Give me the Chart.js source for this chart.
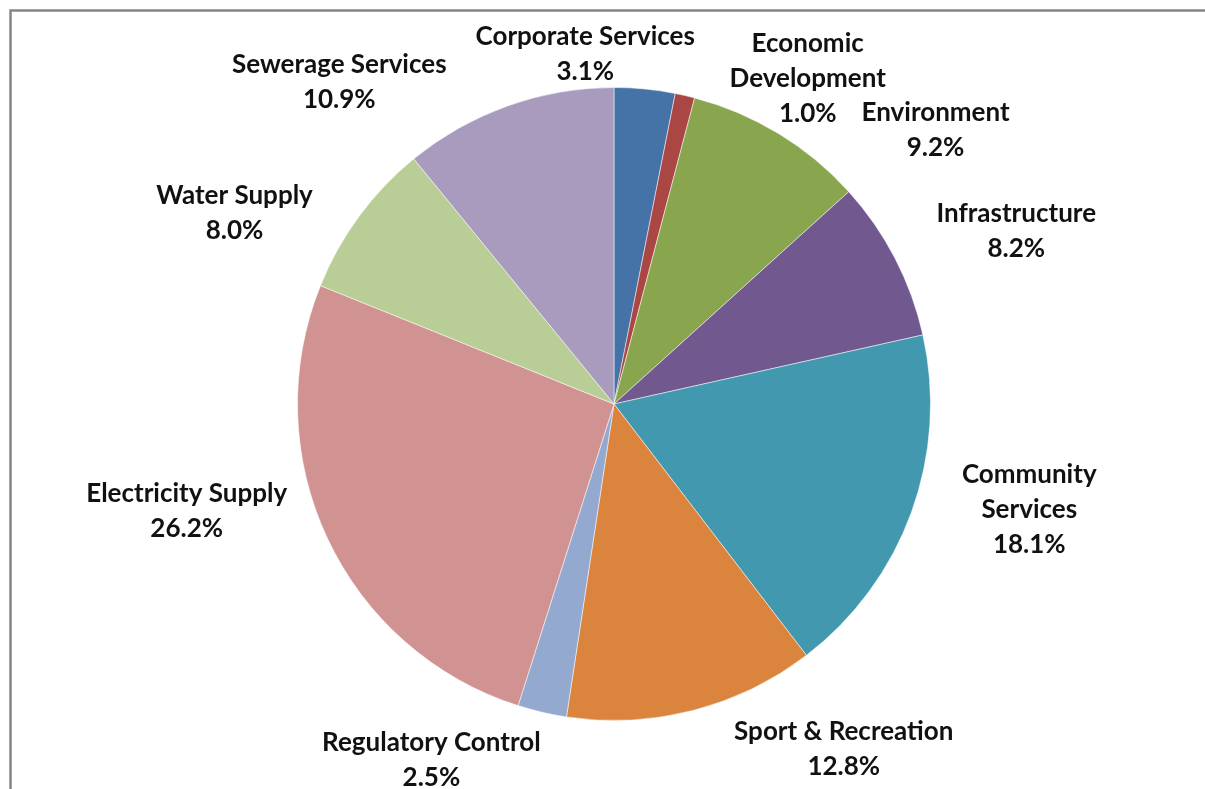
<!DOCTYPE html>
<html>
<head>
<meta charset="utf-8">
<title>Budget by department</title>
<script src="https://cdn.jsdelivr.net/npm/chart.js@4.4.1/dist/chart.umd.min.js"></script>
<style>
  html, body { margin: 0; padding: 0; background: #fff; }
  #pie { display: block; }
</style>
</head>
<body>
<canvas id="pie" width="1205" height="789"></canvas>
<script>
// data (percent of total)
var categories = [
  'Corporate Services',
  ['Economic', 'Development'],
  'Environment',
  'Infrastructure',
  ['Community', 'Services'],
  'Sport & Recreation',
  'Regulatory Control',
  'Electricity Supply',
  'Water Supply',
  'Sewerage Services'
];
var shares = [3.1, 1.0, 9.2, 8.2, 18.1, 12.8, 2.5, 26.2, 8.0, 10.9];
var sliceColors = [
  '#4572A7', '#AA4643', '#89A54E', '#71588F', '#4198AF',
  '#DB843D', '#93A9CF', '#D19392', '#B9CD96', '#A99BBD'
];

// where Excel put each label, relative to the pie centre (in radii)
var labelSpots = [
  [-0.091, -1.106], [0.612, -1.028], [1.016, -0.864], [1.271, -0.547], [1.312, 0.333],
  [0.726, 1.090], [-0.577, 1.125], [-1.350, 0.338], [-1.199, -0.603], [-0.868, -1.016]
];

var framePlugin = {
  id: 'frame',
  beforeDraw: function(chart) {
    var ctx = chart.ctx;
    ctx.save();
    ctx.fillStyle = '#fff';
    ctx.fillRect(0, 0, chart.width, chart.height);
    ctx.strokeStyle = '#858585';
    ctx.lineWidth = 2.5;
    ctx.beginPath();
    ctx.moveTo(10.5, chart.height);
    ctx.lineTo(10.5, 10.5);
    ctx.lineTo(chart.width, 10.5);
    ctx.stroke();
    ctx.restore();
  }
};

var labelPlugin = {
  id: 'sliceLabels',
  afterDatasetsDraw: function(chart) {
    var ctx = chart.ctx;
    var meta = chart.getDatasetMeta(0);
    ctx.save();
    ctx.font = 'bold 26px Lato, "Open Sans", sans-serif';
    ctx.fillStyle = '#111';
    ctx.textAlign = 'center';
    ctx.textBaseline = 'middle';
    var lineH = 35;
    meta.data.forEach(function(arc, i) {
      var r = arc.outerRadius;
      var cx = arc.x + labelSpots[i][0] * r;
      var cy = arc.y + labelSpots[i][1] * r;
      var name = categories[i];
      var lines = (Array.isArray(name) ? name.slice() : [name]);
      lines.push(shares[i].toFixed(1) + '%');
      var top = cy - (lines.length - 1) * lineH / 2;
      lines.forEach(function(t, j) {
        ctx.fillText(t, cx, top + j * lineH);
      });
    });
    ctx.restore();
  }
};

new Chart(document.getElementById('pie').getContext('2d'), {
  type: 'pie',
  data: {
    labels: categories,
    datasets: [{
      data: shares,
      backgroundColor: sliceColors,
      borderColor: 'rgba(255,255,255,0.5)',
      borderWidth: 1
    }]
  },
  options: {
    responsive: false,
    animation: false,
    layout: { padding: { left: 23, right: 0, top: 87, bottom: 68 } },
    plugins: {
      legend: { display: false },
      tooltip: { enabled: false }
    }
  },
  plugins: [framePlugin, labelPlugin]
});
</script>
</body>
</html>
